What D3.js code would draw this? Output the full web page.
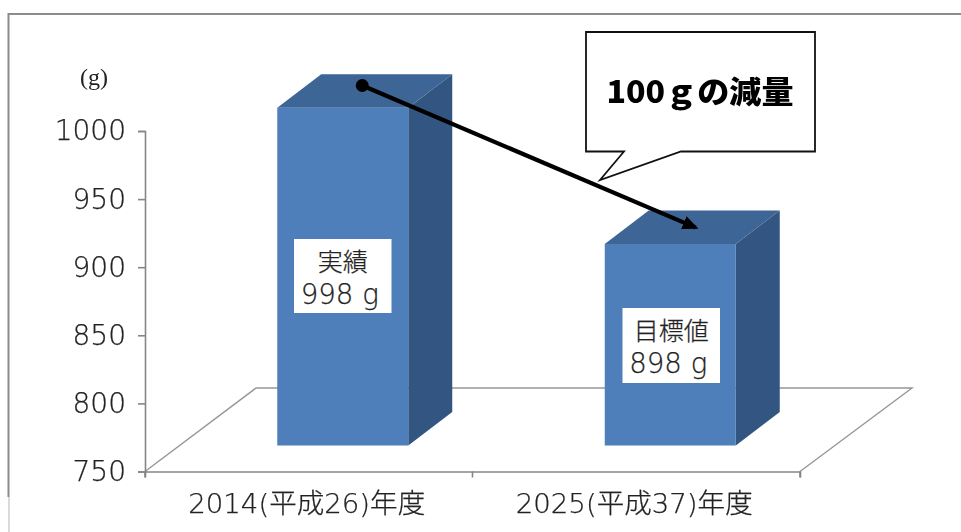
<!DOCTYPE html>
<html>
<head>
<meta charset="utf-8">
<script src="https://cdn.jsdelivr.net/npm/d3@7"></script>
<style>
  html, body { margin: 0; padding: 0; background: #fff; overflow: hidden; }
  svg { display: block; filter: blur(0.35px); }
  .axis path, .axis line { stroke: #868686; stroke-width: 1.6; }
  .jp { font-family: "DejaVu Sans", "Noto Sans CJK JP", sans-serif; fill: #222; stroke: #222; stroke-width: 0.25; }
</style>
</head>
<body>
<svg id="chart"></svg>
<script>
const categories = ['2014(平成26)年度', '2025(平成37)年度'];
const values = [998, 898];
const barNames = ['実績', '目標値'];
const yTicks = [750, 800, 850, 900, 950, 1000];
const unitLabel = '(g)';
const calloutText = '100ｇの減量';

const w = 961, h = 532;

const svg = d3.select('#chart').attr('width', w).attr('height', h);

// outer frame of the picture, only top and left are visible
svg.append('path')
  .attr('d', 'M961,14 L8.5,14 L8.5,497')
  .attr('fill', 'none').attr('stroke', '#8c8c8c').attr('stroke-width', 2);
svg.append('path')
  .attr('d', 'M9,497 L9,532')
  .attr('fill', 'none').attr('stroke', '#b5b5b5').attr('stroke-width', 1);

const xScale = d3.scaleBand().domain(categories).range([145, 800]);
const yScale = d3.scaleLinear().domain([750, 1000]).range([471.5, 131]);

// the 3d depth of the chart
const floorDx = 111, floorDy = -83.5;
const barDx = 44, barDy = -33.5;
const barShiftX = 34, barShiftY = -26;
const barW = xScale.bandwidth() * 0.4;

// floor
const x0 = xScale.range()[0], x1 = xScale.range()[1], y0 = yScale(750);
svg.append('path')
  .attr('d', `M${x0},${y0} L${x0 + floorDx},${y0 + floorDy} L${x1 + floorDx + 1},${y0 + floorDy} L${x1},${y0}`)
  .attr('fill', 'none').attr('stroke', '#969696').attr('stroke-width', 1.4);

// axes
const yAxis = d3.axisLeft(yScale).tickValues(yTicks).tickFormat(d3.format('d')).tickSize(7).tickPadding(12);
const yAxisGroup = svg.append('g').attr('class', 'axis')
  .attr('transform', `translate(${x0},0)`).call(yAxis);
yAxisGroup.selectAll('text')
  .attr('class', 'jp')
  .style('font-family', '"DejaVu Sans", sans-serif')
  .style('font-size', '28px').style('font-weight', 200);

const xAxis = d3.axisBottom(xScale).tickSize(6).tickSizeOuter(6).tickFormat('').tickValues([]);
const xAxisGroup = svg.append('g').attr('class', 'axis')
  .attr('transform', `translate(0,${y0})`).call(xAxis);
xAxisGroup.selectAll('.tickb')
  .data([x0, x0 + xScale.bandwidth(), x1])
  .enter().append('line').attr('class', 'tickb')
  .attr('x1', (d) => d).attr('x2', (d) => d).attr('y1', 0).attr('y2', 6);

// category labels
svg.selectAll('.cat')
  .data(categories)
  .enter().append('text')
  .attr('class', 'cat jp')
  .attr('x', (d) => xScale(d) + xScale.bandwidth() / 2 - 2)
  .attr('y', 513)
  .attr('text-anchor', 'middle')
  .attr('textLength', 237)
  .attr('lengthAdjust', 'spacingAndGlyphs')
  .style('font-size', '27px').style('font-weight', 200)
  .text((d) => d);

// bars: side, top, front
const table = categories.map((c, i) => ({ cat: c, value: values[i], name: barNames[i] }));
const left = (d) => xScale(d.cat) + (xScale.bandwidth() - barW) / 2 + barShiftX;
const top3 = (d) => yScale(d.value) + barShiftY;
const bottom = y0 + barShiftY;

svg.selectAll('.side')
  .data(table)
  .enter().append('path')
  .attr('class', 'side')
  .attr('fill', '#325681')
  .attr('d', (d) => {
    const r = left(d) + barW;
    return `M${r},${top3(d)} L${r + barDx},${top3(d) + barDy} L${r + barDx},${bottom + barDy} L${r},${bottom} Z`;
  });

svg.selectAll('.top')
  .data(table)
  .enter().append('path')
  .attr('class', 'top')
  .attr('fill', '#3d6595')
  .attr('d', (d) => {
    const l = left(d), t = top3(d);
    return `M${l},${t} L${l + barDx},${t + barDy} L${l + barW + barDx},${t + barDy} L${l + barW},${t} Z`;
  });

svg.selectAll('.front')
  .data(table)
  .enter().append('rect')
  .attr('class', 'front')
  .attr('fill', '#4f7fbb')
  .attr('x', left)
  .attr('y', top3)
  .attr('width', barW)
  .attr('height', (d) => bottom - top3(d));

// white label boxes in the bars
const boxW = 97.5;
const boxTop = [239, 308];
const boxH = [74, 75];
const labels = svg.selectAll('.lab')
  .data(table)
  .enter().append('g')
  .attr('class', 'lab')
  .attr('transform', (d, i) => `translate(${left(d) + (barW - boxW) / 2 + (i ? 1 : 0)},${boxTop[i]})`);

labels.append('rect')
  .attr('width', boxW)
  .attr('height', (d, i) => boxH[i])
  .attr('fill', '#fff');
labels.append('text')
  .attr('class', 'jp')
  .attr('x', boxW / 2)
  .attr('y', 32)
  .attr('text-anchor', 'middle')
  .style('font-size', '25px').style('font-weight', 200)
  .text((d) => d.name);
labels.append('text')
  .attr('class', 'jp')
  .attr('x', boxW / 2 - 3)
  .attr('y', 65)
  .attr('text-anchor', 'middle')
  .attr('textLength', 78)
  .attr('lengthAdjust', 'spacingAndGlyphs')
  .style('font-size', '28px').style('font-weight', 200)
  .text((d) => `${d.value} g`);

// unit
svg.append('text')
  .attr('x', 94).attr('y', 85)
  .attr('text-anchor', 'middle')
  .style('font-family', '"Liberation Serif", serif')
  .style('font-size', '24px').style('fill', '#222')
  .text(unitLabel);

// callout
svg.append('path')
  .attr('d', 'M586,32 L815,32 L815,151.5 L681,151.5 L600,180 L624,151.5 L586,151.5 Z')
  .attr('fill', '#fff').attr('stroke', '#111').attr('stroke-width', 1.8);
svg.append('text')
  .attr('x', 700).attr('y', 103)
  .attr('text-anchor', 'middle')
  .attr('textLength', 187)
  .attr('lengthAdjust', 'spacingAndGlyphs')
  .style('font-family', '"Noto Sans CJK JP", sans-serif')
  .style('font-size', '31px').style('font-weight', 900).style('fill', '#000')
  .text(calloutText);

// arrow from bar to bar
const arrowStart = [left(table[0]) + barW / 2 + 19.5, top3(table[0]) + barDy / 2 - 5.5];
const arrowEnd = [left(table[1]) + barW / 2 + 25.5, top3(table[1]) + barDy / 2 + 0.5];
svg.append('defs').append('marker')
  .attr('id', 'head')
  .attr('viewBox', '0 0 16 14')
  .attr('refX', 13).attr('refY', 7)
  .attr('markerWidth', 16).attr('markerHeight', 14)
  .attr('markerUnits', 'userSpaceOnUse')
  .attr('orient', 'auto')
  .append('path').attr('d', 'M0,0 L16,7 L0,14 Z').attr('fill', '#000');
svg.append('line')
  .attr('x1', arrowStart[0]).attr('y1', arrowStart[1])
  .attr('x2', arrowEnd[0]).attr('y2', arrowEnd[1])
  .attr('stroke', '#000').attr('stroke-width', 4.2)
  .attr('marker-end', 'url(#head)');
svg.append('circle')
  .attr('cx', arrowStart[0]).attr('cy', arrowStart[1]).attr('r', 6.5)
  .attr('fill', '#000');
</script>
</body>
</html>
